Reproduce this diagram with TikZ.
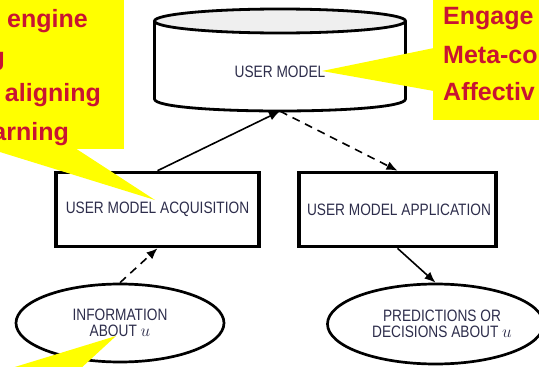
\documentclass[tikz,border=0pt]{standalone}
\usepackage{fontspec}
\setmainfont{Liberation Sans}
\newfontfamily\lblfont[FakeStretch=0.83]{Liberation Sans}
\usetikzlibrary{arrows.meta,calc,shapes.geometric}
\definecolor{calloutred}{RGB}{200,20,50}
\definecolor{lbltext}{RGB}{45,45,75}
\definecolor{capgray}{RGB}{239,239,239}
\definecolor{callyellow}{RGB}{255,255,0}
\begin{document}
\begin{tikzpicture}[x=1pt,y=-1pt,
  lbl/.style={font=\lblfont\fontsize{16.5}{15.5}\selectfont, text=lbltext, align=center, inner sep=0pt},
  boxnode/.style={lbl, draw, line width=3.6pt, minimum height=74pt},
  ellnode/.style={lbl, ellipse, draw, line width=2.7pt},
  cylline/.style={line width=2.8pt},
  arr/.style={line width=1.6pt, -{Latex[length=11pt,width=9pt]}},
  dashline/.style={dash pattern=on 8pt off 6pt},
  callbox/.style={fill=callyellow, draw=none},
  calltext/.style={font=\fontsize{25}{30}\selectfont\bfseries, text=calloutred, inner sep=0pt}
]
\useasboundingbox (0,0) rectangle (539,367);

% user model cylinder
\coordinate (cnw) at (154.5,21);
\coordinate (cne) at (405.5,21);
\coordinate (csw) at (154.5,99);
\coordinate (cse) at (405.5,99);
\path[fill=white] (cnw) -- (csw) .. controls (154.5,115) and (405.5,115) .. (cse) -- (cne) -- cycle;
\draw[cylline] (cnw) -- (csw) .. controls (154.5,115) and (405.5,115) .. (cse) -- (cne);
\draw[cylline, fill=capgray] (280,21) ellipse [x radius=125.5, y radius=12];
\node[lbl, draw=none, minimum width=251pt, minimum height=78pt] (um) at (280,72) {USER MODEL};

% boxes
\node[boxnode, minimum width=203pt] (acq) at (157.5,209.5) {USER MODEL ACQUISITION};
\node[boxnode, minimum width=197pt] (app) at (397.5,209.5) {\hspace*{3pt}USER MODEL APPLICATION};

% ellipses
\node[ellnode, minimum width=208pt, minimum height=78pt] (info) at (120,323) {INFORMATION\\ABOUT $u$};
\node[ellnode, minimum width=203pt, minimum height=80pt] (pred) at (435.5,324)
  {\hspace*{13pt}PREDICTIONS OR\\\hspace*{13pt}DECISIONS ABOUT $u$};

% connectors
\draw[arr] (acq.north) -- (um.south);
\draw[arr, dashline] (um.south) -- (app.north);
\draw[arr, dashline] (info.north) -- (acq.south);
\draw[arr] (app.south) -- (pred.north);

% callouts (on top)
\fill[callbox] (-5,-5) rectangle (124,149);
\fill[callbox] (75,148) -- (155,200) -- (-13,148) -- cycle;
\node[calltext, anchor=base east] (tl1) at (88,27) {engine};
\node[calltext, anchor=base east] (tl2) at (5,65) {g};
\node[calltext, anchor=base east] (tl3) at (101,101) {aligning};
\node[calltext, anchor=base east] (tl4) at (69,140) {arning};

\fill[callbox] (433,-5) rectangle (545,120);
\fill[callbox] (434,48) -- (322,71) -- (434,91) -- cycle;
\node[calltext, anchor=base west] (tr1) at (443,24.5) {Engage};
\node[calltext, anchor=base west] (tr2) at (443,63) {Meta-co};
\node[calltext, anchor=base west] (tr3) at (443,100) {Affectiv};

\fill[callbox] (116,336) -- (79,370) -- (5,370) -- cycle;
\end{tikzpicture}
\end{document}
